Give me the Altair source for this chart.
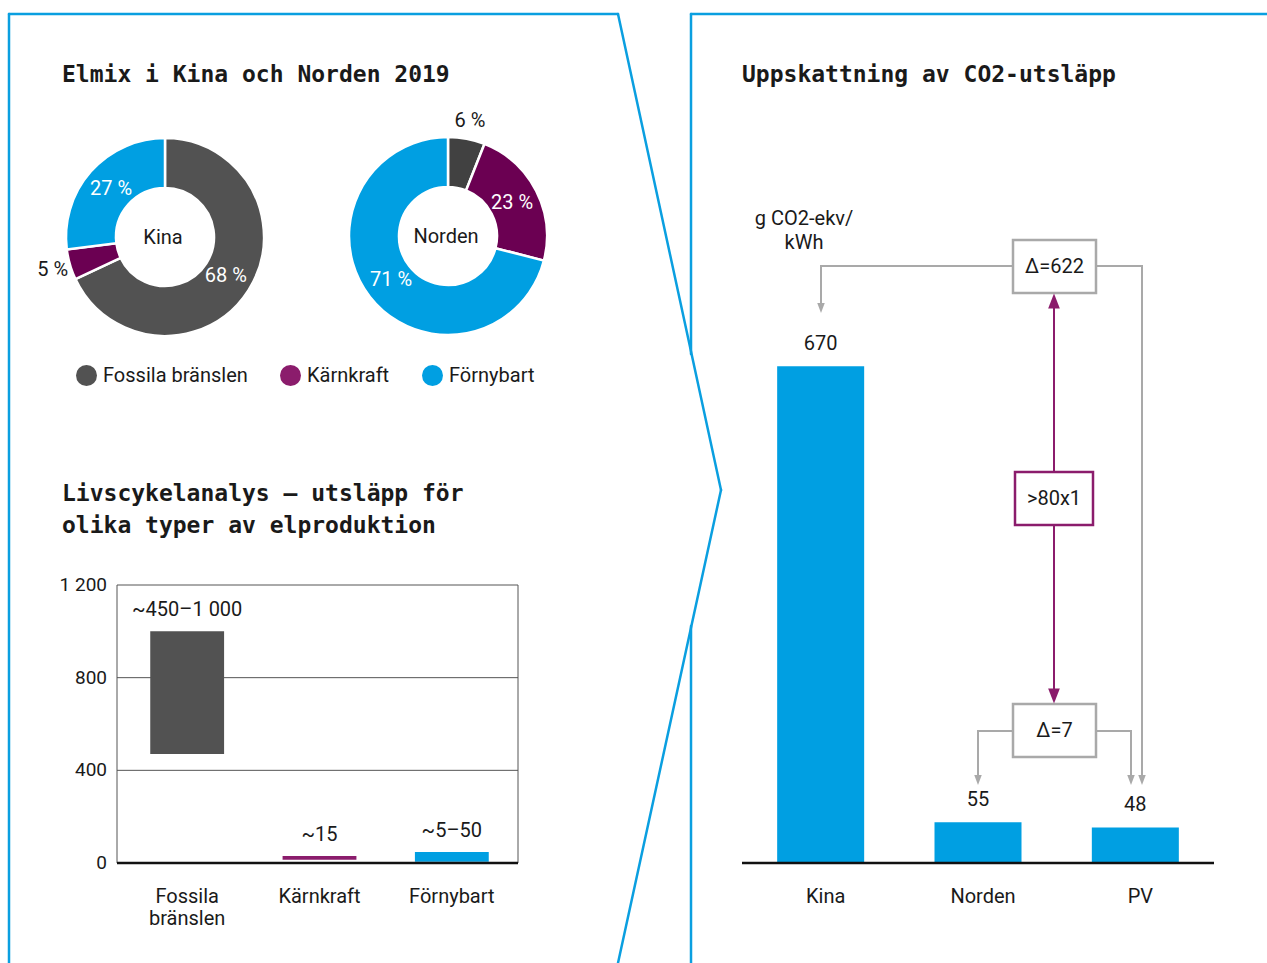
import altair as alt
import pandas as pd

W, H = 1267, 963
FONT = "Roboto"
MONO = "DejaVu Sans Mono"
INK = "#1a1a1a"
BLUE = "#009FE2"
GREY = "#525252"
GREY_DARK = "#414141"
PURPLE = "#8B1C6C"
PURPLE_DARK = "#6B0052"
FRAME_BLUE = "#0A9FE0"
CONNECT = "#A9A9A9"

# ---------------- data ----------------
mix_types = ["Fossila bränslen", "Kärnkraft", "Förnybart"]
regions = ["Kina", "Norden"]
kina_share = [68, 5, 27]
norden_share = [6, 23, 71]

lca_types = ["Fossila bränslen", "Kärnkraft", "Förnybart"]
lca_axis_labels = ["Fossila\nbränslen", "Kärnkraft", "Förnybart"]
lca_low = [470, 14, 5]
lca_high = [1000, 30, 47]
lca_value_labels = ["~450–1 000", "~15", "~5–50"]
lca_ticks = [0, 400, 800, 1200]
lca_tick_labels = ["0", "400", "800", "1 200"]

co2_cats = ["Kina", "Norden", "PV"]
co2_values = [670, 55, 48]
co2_unit = "g CO2-ekv/\nkWh"
delta_labels = ["Δ=622", ">80x1", "Δ=7"]

titles = [
    "Elmix i Kina och Norden 2019",
    "Livscykelanalys – utsläpp för\nolika typer av elproduktion",
    "Uppskattning av CO2-utsläpp",
]

# ---------------- layout (decoration geometry, pixels) ----------------
border_segments = [(9, 14, 9, 963), (9, 14, 618, 14), (618, 14, 721, 490),
                   (721, 490, 618, 963), (691, 14, 1267, 14),
                   (691, 14, 691, 354), (691, 626, 691, 963)]
gray_segments = [(821, 266, 1013, 266), (821, 266, 821, 304),
                 (1096, 266, 1142, 266), (1142, 266, 1142, 776),
                 (978, 731, 1013, 731), (978, 731, 978, 776),
                 (1096, 731, 1131, 731), (1131, 731, 1131, 776)]
purple_segments = [(1054, 309, 1054, 472), (1054, 525, 1054, 688)]
boxes = [(1013, 240, 1096, 293, CONNECT), (1015, 472, 1093, 525, PURPLE),
         (1013, 704, 1096, 757, CONNECT)]
gray_arrows = [(821, 308), (978, 780), (1131, 780), (1142, 780)]

KINA_C = (165, 237)
NORDEN_C = (448, 236)
R_IN, R_OUT = 49, 99

LCA_L, LCA_R, LCA_TOP, LCA_BOT = 117, 518, 585, 863
CO2_L, CO2_R, CO2_BOT = 742, 1214, 863


def px(axis):
    n = W if axis == "x" else H
    return alt.Scale(domain=[0, n], range=[0, n], nice=False, zero=False)


def seg_df(segs):
    return pd.DataFrame(segs, columns=["x", "y", "x2", "y2"])


def seg_layer(segs, color, width, cap="square"):
    return alt.Chart(seg_df(segs)).mark_rule(
        color=color, strokeWidth=width, strokeCap=cap
    ).encode(
        x=alt.X("x:Q", scale=px("x"), axis=None), x2="x2:Q",
        y=alt.Y("y:Q", scale=px("y"), axis=None), y2="y2:Q",
    )


def text_layer(text, x, y, size=20, color=INK, align="center", baseline="middle",
               font=FONT, weight="normal", line_height=None):
    kw = dict(font=font, fontSize=size, color=color, align=align,
              baseline=baseline, fontWeight=weight, lineBreak="\n")
    if line_height:
        kw["lineHeight"] = line_height
    return alt.Chart(pd.DataFrame({"t": [text]})).mark_text(**kw).encode(
        text="t:N", x=alt.value(x), y=alt.value(y))


layers = []

# ---- panel borders ----
layers.append(seg_layer(border_segments, FRAME_BLUE, 2.5, cap="round"))

# ---- titles ----
layers.append(text_layer(titles[0], 62, 82, size=23, font=MONO, weight="bold",
                         align="left", baseline="alphabetic"))
layers.append(text_layer(titles[1], 62, 501, size=23, font=MONO, weight="bold",
                         align="left", baseline="alphabetic", line_height=32))
layers.append(text_layer(titles[2], 742, 82, size=23, font=MONO, weight="bold",
                         align="left", baseline="alphabetic"))


# ---- donuts ----
def donut(shares, center, colors, name):
    df = pd.DataFrame({"type": mix_types, "share": shares, "idx": [0, 1, 2]})
    arcs = alt.Chart(df).mark_arc(
        innerRadius=R_IN, outerRadius=R_OUT, stroke="white", strokeWidth=2.5
    ).encode(
        theta=alt.Theta("share:Q", stack=True),
        color=alt.Color("type:N", scale=alt.Scale(domain=mix_types, range=colors),
                        legend=None),
        order=alt.Order("idx:Q"),
        x=alt.value(center[0]), y=alt.value(center[1]),
    )
    base = alt.Chart(df).transform_window(
        end="sum(share)", sort=[alt.SortField("idx")], frame=[None, 0]
    ).transform_calculate(
        mid="datum.end - datum.share / 2", label="datum.share + ' %'"
    )
    theta_enc = alt.Theta("mid:Q", scale=alt.Scale(domain=[0, 100]), stack=None)
    inside = base.transform_filter("datum.share >= 10").mark_text(
        radius=72, font=FONT, fontSize=20, color="white"
    ).encode(theta=theta_enc, text="label:N",
             x=alt.value(center[0]), y=alt.value(center[1]))
    outside = base.transform_filter("datum.share < 10").mark_text(
        radius=117, font=FONT, fontSize=20, color=INK
    ).encode(theta=theta_enc, text="label:N",
             x=alt.value(center[0]), y=alt.value(center[1]))
    centre = text_layer(name, center[0] - 2, center[1] + 1, size=20)
    return [arcs, inside, outside, centre]


layers += donut(kina_share, KINA_C, [GREY, PURPLE_DARK, BLUE], regions[0])
layers += donut(norden_share, NORDEN_C, [GREY_DARK, PURPLE_DARK, BLUE], regions[1])

# ---- legend (marks off-canvas, legend placed) ----
legend_df = pd.DataFrame({"type": mix_types})
layers.append(
    alt.Chart(legend_df).mark_circle(size=10).encode(
        x=alt.value(-50), y=alt.value(-50),
        color=alt.Color(
            "type:N",
            scale=alt.Scale(domain=mix_types, range=[GREY, PURPLE, BLUE]),
            legend=alt.Legend(
                orient="none", legendX=76, legendY=365, direction="horizontal",
                title=None, symbolType="circle", symbolSize=441,
                symbolStrokeWidth=0, symbolOpacity=1, labelFont=FONT,
                labelFontSize=20, labelColor=INK, labelOffset=6,
                columnPadding=32, padding=0, labelLimit=400,
            ),
        ),
    )
)

# ---- life-cycle chart ----
lca_x = alt.Scale(domain=lca_types, range=[LCA_L + 4, LCA_R],
                  paddingInner=0.442, paddingOuter=0.221)
lca_y = alt.Scale(domain=[0, 1200], range=[LCA_BOT, LCA_TOP], nice=False, zero=False)
lca_df = pd.DataFrame({"type": lca_types, "lo": lca_low, "hi": lca_high,
                       "label": lca_value_labels, "axis_label": lca_axis_labels})
tick_df = pd.DataFrame({"v": lca_ticks, "t": lca_tick_labels})

layers.append(
    alt.Chart(tick_df).mark_rule(color="#555555", strokeWidth=1).encode(
        y=alt.Y("v:Q", scale=lca_y, axis=None),
        x=alt.value(LCA_L), x2=alt.value(LCA_R),
    )
)
layers.append(
    alt.Chart(pd.DataFrame({"a": [1]})).mark_rule(color="#555555", strokeWidth=1).encode(
        x=alt.value(LCA_L), y=alt.value(LCA_TOP), y2=alt.value(LCA_BOT))
)
layers.append(
    alt.Chart(pd.DataFrame({"a": [1]})).mark_rule(color="#555555", strokeWidth=1).encode(
        x=alt.value(LCA_R), y=alt.value(LCA_TOP), y2=alt.value(LCA_BOT))
)
layers.append(
    alt.Chart(lca_df).mark_bar().encode(
        x=alt.X("type:N", scale=lca_x, axis=None, sort=None),
        y=alt.Y("lo:Q", scale=lca_y, axis=None), y2="hi:Q",
        color=alt.Color("type:N", scale=alt.Scale(domain=lca_types,
                                                  range=[GREY, PURPLE, BLUE]),
                        legend=None),
    )
)
layers.append(
    alt.Chart(pd.DataFrame({"a": [1]})).mark_rule(color="#111111", strokeWidth=2.5).encode(
        x=alt.value(LCA_L), x2=alt.value(LCA_R), y=alt.value(LCA_BOT))
)
layers.append(
    alt.Chart(lca_df).mark_text(font=FONT, fontSize=20, color=INK, dy=-21,
                                baseline="middle").encode(
        x=alt.X("type:N", scale=lca_x, axis=None, sort=None),
        y=alt.Y("hi:Q", scale=lca_y, axis=None),
        text="label:N",
    )
)
layers.append(
    alt.Chart(lca_df).mark_text(font=FONT, fontSize=20, color=INK, baseline="top",
                                lineBreak="\n", lineHeight=21.5).encode(
        x=alt.X("type:N", scale=lca_x, axis=None, sort=None),
        y=alt.value(887),
        text="axis_label:N",
    )
)
layers.append(
    alt.Chart(tick_df).mark_text(font=FONT, fontSize=19, color=INK, align="right",
                                 baseline="middle").encode(
        y=alt.Y("v:Q", scale=lca_y, axis=None), x=alt.value(107), text="t:N")
)

# ---- CO2 chart ----
co2_x = alt.Scale(domain=co2_cats, range=[CO2_L, CO2_R],
                  paddingInner=0.447, paddingOuter=0.2235)
co2_y = alt.Scale(domain=[0, 700], range=[CO2_BOT, 344], nice=False, zero=False)
co2_df = pd.DataFrame({"cat": co2_cats, "val": co2_values})

layers.append(
    alt.Chart(co2_df).mark_bar(color=BLUE).encode(
        x=alt.X("cat:N", scale=co2_x, axis=None, sort=None),
        y=alt.Y("val:Q", scale=co2_y, axis=None),
    )
)
layers.append(
    alt.Chart(co2_df).mark_text(font=FONT, fontSize=20, color=INK, dy=-22,
                                baseline="middle").encode(
        x=alt.X("cat:N", scale=co2_x, axis=None, sort=None),
        y=alt.Y("val:Q", scale=co2_y, axis=None),
        text=alt.Text("val:Q"),
    )
)
layers.append(
    alt.Chart(co2_df).mark_text(font=FONT, fontSize=20, color=INK, dx=5,
                                baseline="middle").encode(
        x=alt.X("cat:N", scale=co2_x, axis=None, sort=None),
        y=alt.value(897), text="cat:N",
    )
)
layers.append(
    alt.Chart(pd.DataFrame({"a": [1]})).mark_rule(color="#111111", strokeWidth=2.5).encode(
        x=alt.value(CO2_L), x2=alt.value(CO2_R), y=alt.value(CO2_BOT))
)
layers.append(text_layer(co2_unit, 804, 209, size=20, baseline="top", line_height=24))

# ---- annotations ----
layers.append(seg_layer(gray_segments, CONNECT, 2))
layers.append(seg_layer(purple_segments, PURPLE, 2))
box_df = pd.DataFrame(boxes, columns=["x", "y", "x2", "y2", "c"])
box_df["label"] = delta_labels
box_df["cx"] = (box_df["x"] + box_df["x2"]) / 2
box_df["cy"] = (box_df["y"] + box_df["y2"]) / 2
layers.append(
    alt.Chart(box_df).mark_rect(fill="white", strokeWidth=2.5).encode(
        x=alt.X("x:Q", scale=px("x"), axis=None), x2="x2:Q",
        y=alt.Y("y:Q", scale=px("y"), axis=None), y2="y2:Q",
        stroke=alt.Stroke("c:N", scale=None),
    )
)
layers.append(
    alt.Chart(box_df).mark_text(font=FONT, fontSize=20, color=INK,
                                baseline="middle").encode(
        x=alt.X("cx:Q", scale=px("x"), axis=None),
        y=alt.Y("cy:Q", scale=px("y"), axis=None),
        text="label:N",
    )
)
layers.append(
    alt.Chart(pd.DataFrame(gray_arrows, columns=["x", "y"])).mark_point(
        shape="M-0.75,-1L0.75,-1L0,1Z", filled=True, size=100, color=CONNECT,
        opacity=1, strokeWidth=0,
    ).encode(x=alt.X("x:Q", scale=px("x"), axis=None),
             y=alt.Y("y:Q", scale=px("y"), axis=None))
)
layers.append(
    alt.Chart(pd.DataFrame({"a": [1]})).mark_point(
        shape="M-0.78,1L0.78,1L0,-1Z", filled=True, size=225, color=PURPLE,
        opacity=1, strokeWidth=0,
    ).encode(x=alt.value(1054), y=alt.value(301))
)
layers.append(
    alt.Chart(pd.DataFrame({"a": [1]})).mark_point(
        shape="M-0.78,-1L0.78,-1L0,1Z", filled=True, size=225, color=PURPLE,
        opacity=1, strokeWidth=0,
    ).encode(x=alt.value(1054), y=alt.value(696))
)

chart = alt.layer(*layers).resolve_scale(
    x="independent", y="independent", color="independent",
    theta="independent", stroke="independent",
).properties(
    width=W, height=H, autosize=alt.AutoSizeParams(type="none"), padding=0,
    background="white",
).configure_view(stroke=None)

chart.save("out.html", embed_options={"renderer": "svg", "actions": False})
